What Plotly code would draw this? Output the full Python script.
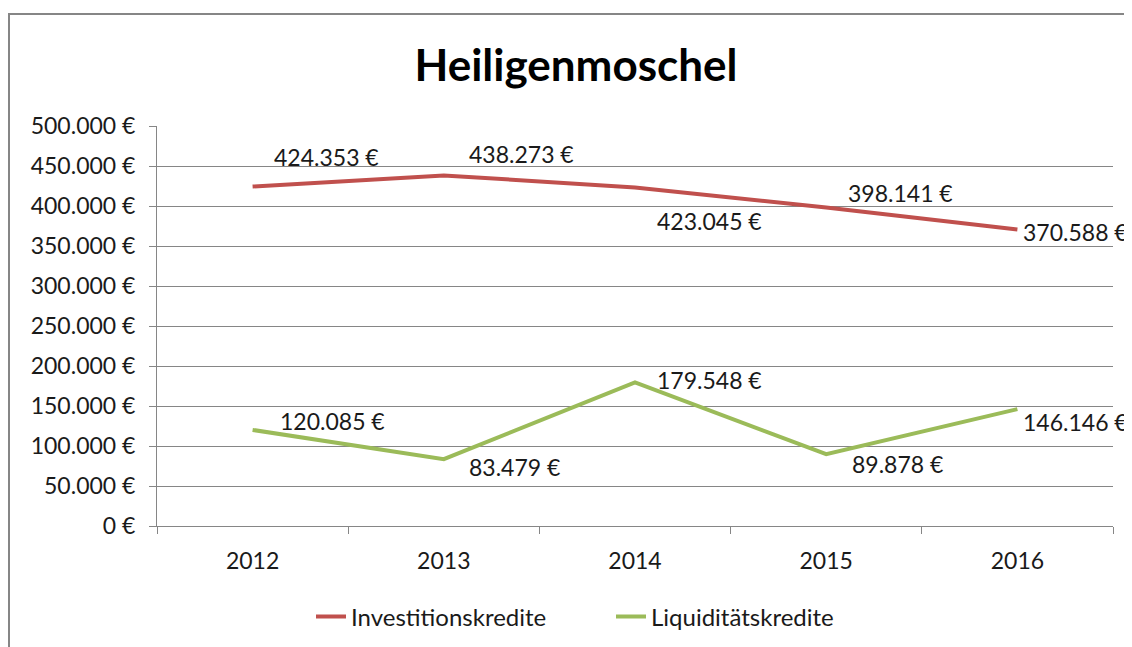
import plotly.graph_objects as go

# ---------------------------------------------------------------------------
# Data
# ---------------------------------------------------------------------------
years = ["2012", "2013", "2014", "2015", "2016"]
investitionskredite = [424353, 438273, 423045, 398141, 370588]
liquiditaetskredite = [120085, 83479, 179548, 89878, 146146]

RED = "#C0504D"
GREEN = "#9BBB59"
GRID = "#868686"
FONT = "Lato, 'Noto Sans', sans-serif"

# label offsets (px) relative to each point: (xshift, yshift)
_RED_SHIFT = [(19, 30), (23, 21), (20, -33), (20, 14), (4, -2)]
_GREEN_SHIFT = [(25, 9), (23, -8), (20, 2), (24, -10), (4, -13)]

# the page adds an 8px body margin, so the figure is 8px smaller each way
W, H = 1124, 639


def _eur(v: float) -> str:
    return f"{v:,.0f}".replace(",", ".") + "\u00a0€"


fig = go.Figure()
fig.add_trace(
    go.Scatter(
        x=years,
        y=investitionskredite,
        mode="lines",
        name="Investitionskredite",
        line={"color": RED, "width": 4},
    )
)
fig.add_trace(
    go.Scatter(
        x=years,
        y=liquiditaetskredite,
        mode="lines",
        name="Liquiditätskredite",
        line={"color": GREEN, "width": 4},
    )
)

annotations = []
for series, shifts in ((investitionskredite, _RED_SHIFT), (liquiditaetskredite, _GREEN_SHIFT)):
    # category axis: annotation x is the category index
    for i, (val, (dx, dy)) in enumerate(zip(series, shifts)):
        annotations.append(
            dict(
                x=i,
                y=val,
                xref="x",
                yref="y",
                text=_eur(val),
                showarrow=False,
                xanchor="left",
                yanchor="middle",
                xshift=dx,
                yshift=dy,
                font={"size": 23, "color": "#1a1a1a", "family": FONT},
            )
        )

fig.update_layout(
    width=W,
    height=H,
    autosize=False,
    paper_bgcolor="white",
    plot_bgcolor="white",
    margin={"l": 149, "r": 19, "t": 118, "b": 121, "autoexpand": False},
    font={"family": FONT, "size": 23, "color": "#1a1a1a"},
    title={
        "text": "<b>Heiligenmoschel</b>",
        "x": 568 / W,
        "xanchor": "center",
        "xref": "container",
        "y": 1 - 58 / H,
        "yanchor": "middle",
        "yref": "container",
        "font": {"size": 44, "color": "#000000", "family": FONT},
    },
    showlegend=True,
    legend={
        "orientation": "h",
        "x": (603 - 149) / 956,
        "xanchor": "center",
        "y": -0.2275,
        "yanchor": "middle",
        "font": {"size": 24},
        "entrywidth": 255,
        "entrywidthmode": "pixels",
    },
    annotations=annotations,
    shapes=[
        dict(
            type="rect",
            xref="paper",
            yref="paper",
            x0=(1 - 149) / 956,
            x1=(1140 - 149) / 956,
            y0=(518 - 660) / 400,
            y1=(518 - 6) / 400,
            line={"color": GRID, "width": 2},
            layer="below",
        )
    ],
    separators=",.",
)

fig.update_xaxes(
    type="category",
    range=[-0.5, 4.5],
    showline=True,
    linecolor=GRID,
    linewidth=1,
    ticks="outside",
    tickson="boundaries",
    ticklen=7,
    tickcolor=GRID,
    ticklabelstandoff=14,
    showgrid=False,
    tickfont={"size": 23},
)
fig.update_yaxes(
    range=[0, 500000],
    dtick=50000,
    tickformat=",.0f",
    ticksuffix="\u00a0€",
    showline=True,
    linecolor=GRID,
    linewidth=1,
    ticks="outside",
    ticklen=7,
    tickcolor=GRID,
    ticklabelstandoff=9,
    showgrid=True,
    gridcolor=GRID,
    gridwidth=1,
    zeroline=False,
    tickfont={"size": 23},
)

fig.write_html("out.html")
